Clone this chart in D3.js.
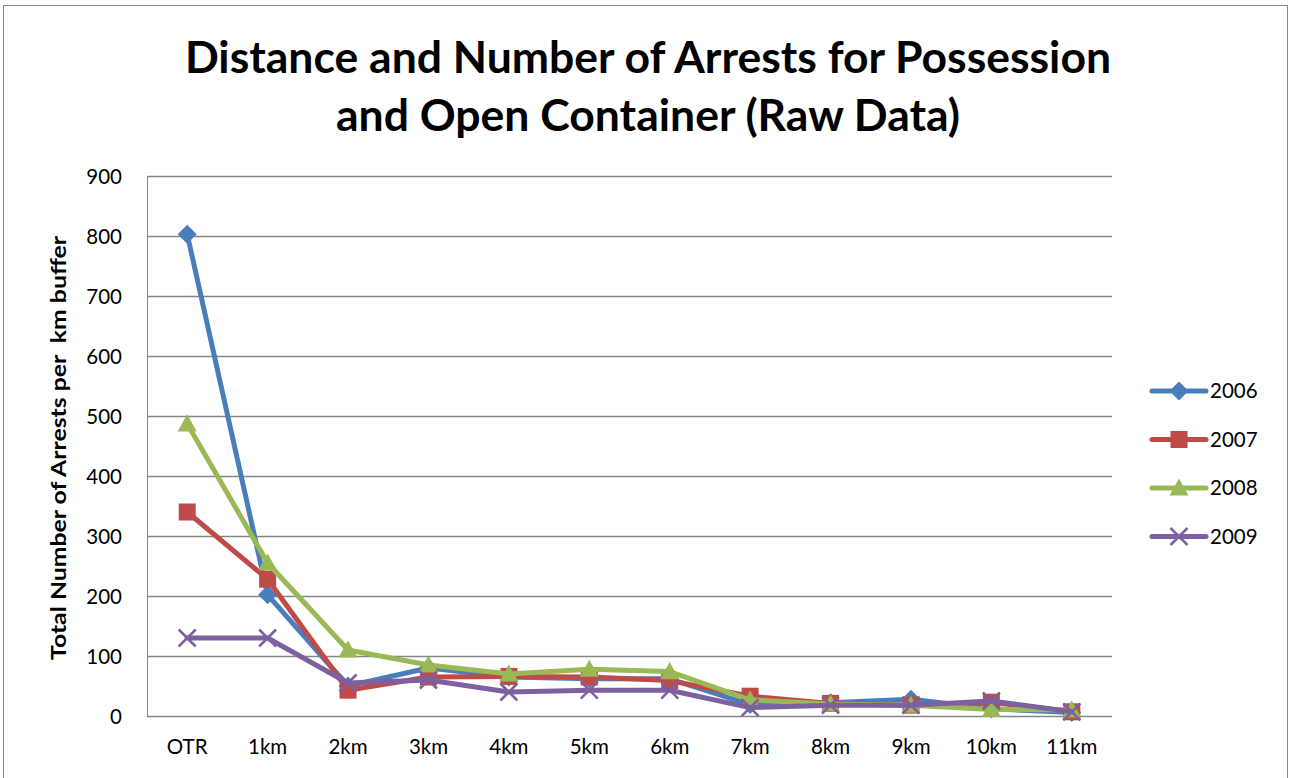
<!DOCTYPE html>
<html>
<head>
<meta charset="utf-8">
<script src="https://cdn.jsdelivr.net/npm/d3@7"></script>
<style>
  html, body { margin: 0; padding: 0; background: #fff; }
  svg { display: block; }
  text { font-family: Lato, "Open Sans", "Liberation Sans", sans-serif; }
</style>
</head>
<body>
<svg id="chart" width="1291" height="778"></svg>
<script>
// Distance buffers around OTR
const categories = ["OTR", "1km", "2km", "3km", "4km", "5km", "6km", "7km", "8km", "9km", "10km", "11km"];

// Arrests per buffer, by year
const arrests2006 = [803, 202, 50, 80, 65, 62, 62, 19, 22, 28, 12, 6];
const arrests2007 = [340, 228, 43, 65, 66, 65, 59, 33, 21, 18, 23, 7];
const arrests2008 = [487, 255, 110, 85, 70, 78, 74, 27, 20, 18, 11, 10];
const arrests2009 = [130, 130, 55, 60, 40, 43, 43, 14, 18, 18, 25, 7];

const yTicks = [0, 100, 200, 300, 400, 500, 600, 700, 800, 900];
const years = ["2006", "2007", "2008", "2009"];

const series = [
  { name: years[0], values: arrests2006, color: "#4a7ebb", marker: "diamond" },
  { name: years[1], values: arrests2007, color: "#be4b48", marker: "square" },
  { name: years[2], values: arrests2008, color: "#98b954", marker: "triangle" },
  { name: years[3], values: arrests2009, color: "#7d60a0", marker: "x" }
];

const svg = d3.select("#chart");

// outer chart frame
svg.append("rect")
  .attr("x", 3.5).attr("y", 5.5)
  .attr("width", 1284).attr("height", 790)
  .attr("fill", "none").attr("stroke", "#868686").attr("stroke-width", 1);

const plot = { left: 147, right: 1112, top: 176, bottom: 716 };

const x = d3.scaleBand().domain(categories).range([plot.left, plot.right]).padding(0);
const y = d3.scaleLinear().domain([0, 900]).range([plot.bottom, plot.top]);
const cx = d => x(d) + x.bandwidth() / 2;

// horizontal gridlines
svg.append("g")
  .selectAll("line")
  .data(yTicks)
  .join("line")
  .attr("x1", plot.left).attr("x2", plot.right)
  .attr("y1", d => Math.round(y(d)) + 0.5).attr("y2", d => Math.round(y(d)) + 0.5)
  .attr("stroke", "#868686").attr("stroke-width", 1.5);

// vertical axis line
svg.append("line")
  .attr("x1", plot.left + 0.5).attr("x2", plot.left + 0.5)
  .attr("y1", plot.top).attr("y2", plot.bottom)
  .attr("stroke", "#868686").attr("stroke-width", 1);

// y axis labels
const yAxis = d3.axisLeft(y).tickValues(yTicks).tickSize(0).tickPadding(0).tickFormat(d3.format("d"));
const yg = svg.append("g").attr("transform", `translate(${plot.left - 25},0)`).call(yAxis);
yg.select(".domain").remove();
yg.selectAll("text").attr("font-size", 20.5).attr("fill", "#000")
  .attr("font-family", "Lato, 'Open Sans', sans-serif").attr("dy", "0.35em");

// x axis labels
const xAxis = d3.axisBottom(x).tickSize(0).tickPadding(0);
const xg = svg.append("g").attr("transform", `translate(0,${plot.bottom + 22})`).call(xAxis);
xg.select(".domain").remove();
xg.selectAll("text").attr("font-size", 20.5).attr("fill", "#000")
  .attr("font-family", "Lato, 'Open Sans', sans-serif").attr("dy", "0.8em");

// title
const title = svg.append("text")
  .attr("text-anchor", "middle")
  .attr("font-weight", "bold")
  .attr("font-size", 44.5)
  .attr("fill", "#000");
title.append("tspan").attr("x", 648).attr("y", 73).text("Distance and Number of Arrests for Possession");
title.append("tspan").attr("x", 648).attr("y", 131).text("and Open Container (Raw Data)");

// y axis title
svg.append("text")
  .attr("transform", `translate(66,${(plot.top + plot.bottom) / 2 + 2}) rotate(-90)`)
  .attr("text-anchor", "middle")
  .attr("font-weight", "bold")
  .attr("font-size", 21)
  .attr("textLength", 424)
  .attr("lengthAdjust", "spacingAndGlyphs")
  .attr("fill", "#000")
  .style("white-space", "pre")
  .text("Total Number of Arrests per  km buffer");

// marker shapes
function drawMarker(g, type, color, size) {
  if (type === "diamond") {
    const s = size / 2 + 1;
    g.append("path").attr("d", `M0,${-s}L${s},0L0,${s}L${-s},0Z`).attr("fill", color);
  } else if (type === "square") {
    const s = size / 2;
    g.append("rect").attr("x", -s).attr("y", -s).attr("width", size).attr("height", size).attr("fill", color);
  } else if (type === "triangle") {
    const s = size / 2 + 1;
    g.append("path").attr("d", `M0,${-s}L${s},${s * 0.8}L${-s},${s * 0.8}Z`).attr("fill", color);
  } else {
    const s = size / 2;
    g.append("path").attr("d", `M${-s},${-s}L${s},${s}M${s},${-s}L${-s},${s}`)
      .attr("stroke", color).attr("stroke-width", 2.5).attr("fill", "none");
  }
}

const line = d3.line().x((d, i) => cx(categories[i])).y(d => y(d));

series.forEach(s => {
  const g = svg.append("g");
  g.append("path")
    .datum(s.values)
    .attr("d", line)
    .attr("fill", "none")
    .attr("stroke", s.color)
    .attr("stroke-width", 5)
    .attr("stroke-linejoin", "round")
    .attr("stroke-linecap", "round");
  g.selectAll("g.m")
    .data(s.values)
    .join("g")
    .attr("class", "m")
    .attr("transform", (d, i) => `translate(${cx(categories[i])},${y(d)})`)
    .each(function () { drawMarker(d3.select(this), s.marker, s.color, 17); });
});

// legend
const legend = svg.append("g");
series.forEach((s, i) => {
  const ly = 391 + i * 48.5;
  const g = legend.append("g").attr("transform", `translate(0,${ly})`);
  g.append("line").attr("x1", 1152).attr("x2", 1206).attr("y1", 0).attr("y2", 0)
    .attr("stroke", s.color).attr("stroke-width", 5).attr("stroke-linecap", "round");
  const m = g.append("g").attr("transform", "translate(1179,0)");
  drawMarker(m, s.marker, s.color, 17);
  g.append("text").attr("x", 1210).attr("y", 0).attr("dy", "0.35em")
    .attr("font-size", 20.5).attr("fill", "#000").text(s.name);
});
</script>
</body>
</html>
